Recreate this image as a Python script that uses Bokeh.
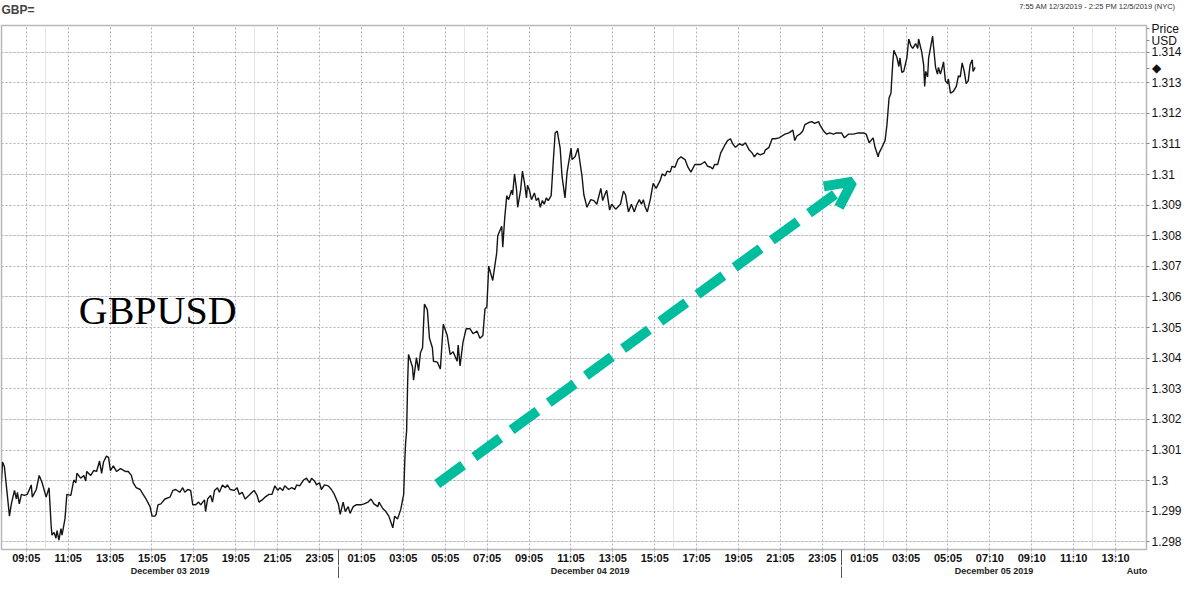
from bokeh.plotting import figure
from bokeh.models import Range1d, LinearAxis, FixedTicker, Label, Arrow, OpenHead, Grid
from bokeh.embed import file_html
from bokeh.resources import INLINE

# ---- data: hours since 2019-12-03 00:00 and GBPUSD price ----
hours = [
    7.85, 7.95, 8.04, 8.28, 8.37, 8.52, 8.61, 8.66, 8.75, 8.85,
    8.99, 9.13, 9.32, 9.37, 9.56, 9.70, 9.84, 10.03, 10.17, 10.27,
    10.31, 10.41, 10.50, 10.55, 10.64, 10.74, 10.79, 10.93, 11.02, 11.21,
    11.35, 11.45, 11.50, 11.68, 11.83, 11.92, 11.97, 12.16, 12.30, 12.44,
    12.58, 12.68, 12.77, 12.91, 13.01, 13.10, 13.24, 13.39, 13.58, 13.81,
    13.95, 14.10, 14.19, 14.33, 14.52, 14.66, 14.80, 14.99, 15.09, 15.23,
    15.28, 15.37, 15.51, 15.70, 15.94, 16.08, 16.22, 16.41, 16.55, 16.65,
    16.79, 16.93, 17.03, 17.17, 17.31, 17.41, 17.59, 17.64, 17.74, 17.88,
    17.97, 18.07, 18.21, 18.30, 18.45, 18.59, 18.68, 18.82, 19.01, 19.15,
    19.25, 19.39, 19.53, 19.72, 19.86, 19.96, 20.10, 20.19, 20.34, 20.48,
    20.67, 20.81, 20.95, 21.09, 21.19, 21.33, 21.42, 21.61, 21.76, 21.90,
    21.99, 22.13, 22.32, 22.46, 22.61, 22.70, 22.84, 22.94, 23.08, 23.17,
    23.32, 23.50, 23.65, 23.79, 23.98, 24.07, 24.21, 24.31, 24.45, 24.54,
    24.69, 24.83, 25.06, 25.21, 25.40, 25.54, 25.68, 25.87, 25.92, 26.10,
    26.25, 26.39, 26.58, 26.67, 26.81, 26.96, 27.10, 27.15, 27.19, 27.24,
    27.29, 27.33, 27.52, 27.57, 27.71, 27.81, 27.90, 28.00, 28.09, 28.23,
    28.33, 28.47, 28.52, 28.71, 28.85, 28.99, 29.18, 29.32, 29.46, 29.65,
    29.70, 29.79, 29.93, 30.08, 30.27, 30.41, 30.60, 30.74, 30.88, 30.98,
    31.07, 31.16, 31.35, 31.54, 31.59, 31.78, 31.83, 31.92, 32.02, 32.11,
    32.25, 32.30, 32.39, 32.49, 32.54, 32.68, 32.77, 32.87, 32.96, 33.01,
    33.10, 33.20, 33.34, 33.43, 33.53, 33.62, 33.72, 33.81, 33.91, 34.00,
    34.14, 34.24, 34.33, 34.43, 34.57, 34.66, 34.80, 34.90, 35.09, 35.14,
    35.28, 35.42, 35.61, 35.70, 35.85, 36.03, 36.18, 36.32, 36.51, 36.60,
    36.70, 36.79, 36.93, 37.03, 37.22, 37.31, 37.45, 37.59, 37.69, 37.83,
    37.97, 38.11, 38.21, 38.35, 38.45, 38.54, 38.63, 38.73, 38.87, 39.01,
    39.15, 39.34, 39.44, 39.58, 39.67, 39.82, 39.91, 40.05, 40.19, 40.34,
    40.53, 40.67, 40.81, 41.00, 41.28, 41.47, 41.61, 41.76, 41.85, 41.94,
    42.09, 42.23, 42.42, 42.56, 42.70, 42.80, 42.94, 43.13, 43.27, 43.41,
    43.60, 43.74, 43.84, 43.98, 44.12, 44.31, 44.36, 44.54, 44.69, 44.83,
    45.02, 45.16, 45.30, 45.49, 45.68, 45.77, 45.87, 46.01, 46.15, 46.25,
    46.44, 46.58, 46.72, 46.91, 46.96, 47.15, 47.29, 47.43, 47.62, 47.76,
    48.00, 48.14, 48.33, 48.56, 48.80, 49.04, 49.18, 49.32, 49.51, 49.60,
    49.75, 49.79, 49.93, 50.08, 50.17, 50.27, 50.36, 50.45, 50.50, 50.64,
    50.74, 50.79, 50.88, 50.97, 51.12, 51.21, 51.31, 51.40, 51.54, 51.64,
    51.68, 51.83, 51.92, 51.97, 52.02, 52.11, 52.16, 52.35, 52.39, 52.49,
    52.58, 52.63, 52.72, 52.82, 52.87, 52.96, 53.06, 53.10, 53.20, 53.34,
    53.48, 53.58, 53.67, 53.76, 53.86, 53.95, 54.05, 54.14, 54.24, 54.28,
    54.38,
]

price = [
    1.29940, 1.30061, 1.30045, 1.29884, 1.29924, 1.29968, 1.29940, 1.29962, 1.29924, 1.29955,
    1.29952, 1.29955, 1.29986, 1.29946, 1.29971, 1.30017, 1.29993, 1.29946, 1.29977, 1.29853,
    1.29822, 1.29831, 1.29812, 1.29837, 1.29806, 1.29843, 1.29822, 1.29875, 1.29955, 1.29952,
    1.30002, 1.29993, 1.30024, 1.30008, 1.30017, 1.29999, 1.30030, 1.30017, 1.30033, 1.30030,
    1.30064, 1.30024, 1.30061, 1.30080, 1.30076, 1.30033, 1.30048, 1.30030, 1.30039, 1.30030,
    1.30030, 1.30017, 1.29993, 1.29977, 1.29971, 1.29955, 1.29940, 1.29915, 1.29884, 1.29884,
    1.29890, 1.29921, 1.29924, 1.29940, 1.29946, 1.29968, 1.29971, 1.29962, 1.29977, 1.29962,
    1.29971, 1.29968, 1.29921, 1.29921, 1.29930, 1.29921, 1.29937, 1.29899, 1.29940, 1.29952,
    1.29930, 1.29968, 1.29977, 1.29962, 1.29986, 1.29977, 1.29986, 1.29971, 1.29968, 1.29977,
    1.29955, 1.29962, 1.29940, 1.29952, 1.29962, 1.29968, 1.29952, 1.29930, 1.29937, 1.29946,
    1.29955, 1.29955, 1.29983, 1.29968, 1.29977, 1.29968, 1.29983, 1.29971, 1.29977, 1.29971,
    1.29986, 1.29983, 1.30002, 1.30008, 1.29993, 1.30008, 1.29999, 1.29986, 1.29993, 1.29971,
    1.29986, 1.29983, 1.29971, 1.29955, 1.29924, 1.29890, 1.29930, 1.29899, 1.29915, 1.29893,
    1.29915, 1.29921, 1.29921, 1.29924, 1.29930, 1.29940, 1.29924, 1.29915, 1.29930, 1.29909,
    1.29899, 1.29884, 1.29846, 1.29884, 1.29875, 1.29906, 1.29955, 1.30061, 1.30123, 1.30163,
    1.30325, 1.30412, 1.30371, 1.30328, 1.30402, 1.30359, 1.30418, 1.30434, 1.30577, 1.30558,
    1.30465, 1.30434, 1.30390, 1.30387, 1.30365, 1.30511, 1.30474, 1.30412, 1.30421, 1.30390,
    1.30443, 1.30375, 1.30452, 1.30496, 1.30496, 1.30480, 1.30489, 1.30465, 1.30474, 1.30561,
    1.30567, 1.30701, 1.30654, 1.30744, 1.30800, 1.30831, 1.30763, 1.30856, 1.30931, 1.30918,
    1.30949, 1.30934, 1.31002, 1.30949, 1.30893, 1.30949, 1.31011, 1.30971, 1.30924, 1.30965,
    1.30949, 1.30918, 1.30940, 1.30915, 1.30924, 1.30893, 1.30915, 1.30903, 1.30924, 1.30915,
    1.30931, 1.31042, 1.31136, 1.31142, 1.31086, 1.30993, 1.30924, 1.31008, 1.31086, 1.31049,
    1.31058, 1.31086, 1.30996, 1.30934, 1.30893, 1.30918, 1.30915, 1.30903, 1.30955, 1.30915,
    1.30934, 1.30949, 1.30884, 1.30903, 1.30887, 1.30893, 1.30903, 1.30946, 1.30934, 1.30878,
    1.30903, 1.30878, 1.30899, 1.30918, 1.30903, 1.30918, 1.30893, 1.30878, 1.30918, 1.30971,
    1.30955, 1.30980, 1.31002, 1.30996, 1.31011, 1.31008, 1.31027, 1.31024, 1.31049, 1.31058,
    1.31049, 1.31024, 1.31008, 1.31033, 1.31033, 1.31042, 1.31027, 1.31024, 1.31018, 1.31033,
    1.31033, 1.31070, 1.31095, 1.31111, 1.31117, 1.31101, 1.31089, 1.31101, 1.31095, 1.31104,
    1.31080, 1.31070, 1.31058, 1.31070, 1.31064, 1.31070, 1.31080, 1.31089, 1.31117, 1.31117,
    1.31120, 1.31126, 1.31132, 1.31136, 1.31145, 1.31111, 1.31126, 1.31132, 1.31142, 1.31163,
    1.31170, 1.31173, 1.31167, 1.31173, 1.31163, 1.31142, 1.31132, 1.31136, 1.31132, 1.31136,
    1.31136, 1.31120, 1.31132, 1.31132, 1.31136, 1.31136, 1.31132, 1.31104, 1.31120, 1.31089,
    1.31058, 1.31070, 1.31089, 1.31111, 1.31163, 1.31250, 1.31266, 1.31368, 1.31406, 1.31384,
    1.31353, 1.31381, 1.31334, 1.31337, 1.31381, 1.31443, 1.31421, 1.31412, 1.31428, 1.31412,
    1.31443, 1.31400, 1.31359, 1.31288, 1.31337, 1.31319, 1.31381, 1.31452, 1.31421, 1.31350,
    1.31328, 1.31350, 1.31328, 1.31353, 1.31368, 1.31306, 1.31297, 1.31313, 1.31266, 1.31272,
    1.31288, 1.31322, 1.31319, 1.31365, 1.31337, 1.31297, 1.31306, 1.31359, 1.31375, 1.31337,
    1.31350,
]

time_tick_labels = [
    "09:05", "11:05", "13:05", "15:05", "17:05", "19:05", "21:05", "23:05",
    "01:05", "03:05", "05:05", "07:05", "09:05", "11:05", "13:05", "15:05",
    "17:05", "19:05", "21:05", "23:05", "01:05", "03:05", "05:05",
    "07:10", "09:10", "11:10", "13:10",
]
date_labels = ["December 03 2019", "December 04 2019", "December 05 2019"]
day_starts = [7.90, 24.0, 48.0, 62.56]
price_tick_labels = ["1.298", "1.299", "1.3", "1.301", "1.302", "1.303", "1.304", "1.305",
                     "1.306", "1.307", "1.308", "1.309", "1.31", "1.311", "1.312", "1.313", "1.314"]
last_price = 1.31347
range_text = "7:55 AM 12/3/2019 - 2:25 PM 12/5/2019 (NYC)"

arrow_from = (28.70, 1.29989)
arrow_to = (48.52, 1.30977)

FONT = "Liberation Sans"
TEAL = "#00BD9D"
GRID = "#b0b0c0"

x_start, x_end = day_starts[0], day_starts[-1]
y_start, y_end = 1.29775, 1.31487
p = figure(width=1184, height=578,
           x_range=Range1d(x_start, x_end), y_range=Range1d(y_start, y_end),
           output_backend="svg", toolbar_location=None,
           x_axis_location=None, y_axis_location=None,
           min_border_left=1, min_border_right=0, min_border_top=0, min_border_bottom=0,
           background_fill_color="white", border_fill_color="white",
           outline_line_color="#b8b8b8", outline_line_width=1.5)

p.title.text = "GBP="
p.title.text_font = FONT
p.title.text_font_size = "12px"
p.title.text_font_style = "bold"
p.title.standoff = 0
p.title.offset = 0

# time ticks (dotted tick marks continue the grid down through the label row)
tick_pos = [9 + 5 / 60 + 2 * i for i in range(len(time_tick_labels))]
xticker = FixedTicker(ticks=tick_pos, minor_ticks=day_starts[1:-1])
xaxis = LinearAxis(ticker=xticker,
                   major_label_overrides={t: l for t, l in zip(tick_pos, time_tick_labels)},
                   major_label_text_font=FONT, major_label_text_font_size="11px",
                   major_label_text_font_style="bold", major_label_text_color="#111111",
                   major_tick_out=0, major_tick_in=-13, major_tick_line_color=GRID,
                   major_tick_line_dash="2 2",
                   minor_tick_out=0, minor_tick_in=-16, minor_tick_line_color="#555555",
                   axis_line_color=None, major_label_standoff=2)
p.add_layout(xaxis, "below")

# date row (with the "Auto" scale marker at its right end)
centers = [(day_starts[i] + day_starts[i + 1]) / 2 for i in range(3)]
auto_x = x_end - 0.45
date_overrides = {c: l for c, l in zip(centers, date_labels)}
date_overrides[auto_x] = "Auto"
daxis = LinearAxis(ticker=FixedTicker(ticks=centers + [auto_x], minor_ticks=day_starts[1:-1]),
                   major_label_overrides=date_overrides,
                   major_label_text_font=FONT, major_label_text_font_size="9px",
                   major_label_text_font_style="bold", major_label_text_color="#222222",
                   major_tick_out=0, major_tick_in=0,
                   minor_tick_out=0, minor_tick_in=-13, minor_tick_line_color="#555555",
                   axis_line_color=None, major_label_standoff=-1)
p.add_layout(daxis, "below")

# price axis on the right; its column also carries the "Price / USD" caption and the
# last-price marker
pticks = [float(s) for s in price_tick_labels]
caption_price_y = y_end - 0.00010
caption_usd_y = y_end - 0.00050
axis_overrides = {float(s): s for s in price_tick_labels}
axis_overrides[caption_price_y] = "Price"
axis_overrides[caption_usd_y] = "USD"
axis_overrides[last_price] = "◆"
yaxis = LinearAxis(ticker=FixedTicker(ticks=pticks + [caption_price_y, caption_usd_y, last_price]),
                   major_label_overrides=axis_overrides,
                   major_label_text_font=FONT, major_label_text_font_size="12px",
                   major_label_text_color="#111111",
                   major_tick_out=3, major_tick_in=0, major_tick_line_color="#888888",
                   axis_line_color=None, major_label_standoff=2)
p.add_layout(yaxis, "right")

p.add_layout(Grid(dimension=0, ticker=xticker, grid_line_color=GRID,
                  grid_line_dash="2 2", grid_line_width=1))
p.add_layout(Grid(dimension=1, ticker=FixedTicker(ticks=pticks), grid_line_color=GRID,
                  grid_line_dash="2 2", grid_line_width=1))

p.line(hours, price, line_color="#151515", line_width=1.4)

p.add_layout(Label(x=11.59, y=1.30555, text="GBPUSD", text_font="Liberation Serif",
                   text_font_size="40px", text_color="black", text_baseline="alphabetic"))

p.add_layout(Arrow(x_start=arrow_from[0], y_start=arrow_from[1],
                   x_end=arrow_to[0], y_end=arrow_to[1],
                   line_color=TEAL, line_width=10, line_dash="32 14",
                   end=OpenHead(line_color=TEAL, line_width=10, size=26)))

# time-range caption in the top row (side panel, so it is not clipped by the frame)
p.add_layout(Label(x=1175, x_units="canvas", y=6, y_units="canvas", text=range_text,
                   text_font=FONT, text_font_size="7.5px", text_color="#333333",
                   text_align="right", text_baseline="middle"), "above")

open("out.html", "w").write(file_html(p, INLINE))
